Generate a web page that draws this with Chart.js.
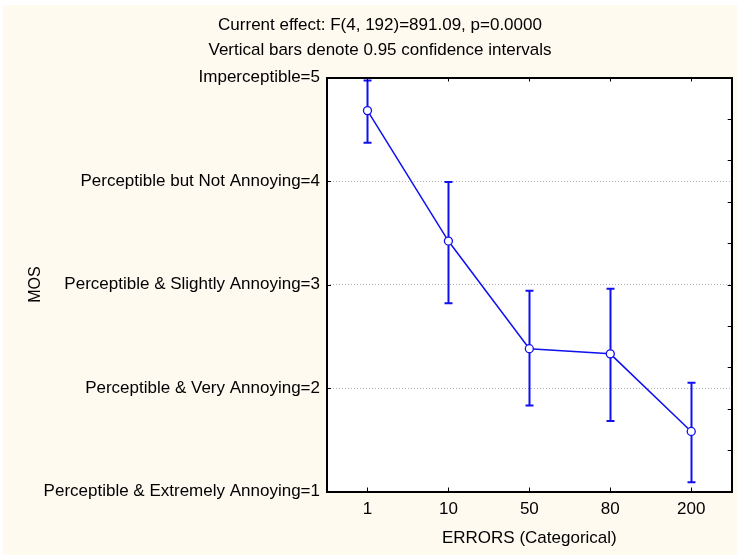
<!DOCTYPE html>
<html>
<head>
<meta charset="utf-8">
<script src="https://cdn.jsdelivr.net/npm/chart.js@4/dist/chart.umd.min.js"></script>
<style>
  html, body { margin: 0; padding: 0; background: #ffffff; }
  #wrap { width: 737px; height: 558px; }
</style>
</head>
<body>
<div id="wrap"><canvas id="chart" width="737" height="558"></canvas></div>
<script>
// DATA
const categories = ["1", "10", "50", "80", "200"];
const mosMean = [4.68, 3.42, 2.38, 2.33, 1.58];
const ciLower = [4.37, 2.82, 1.83, 1.68, 1.09];
const ciUpper = [4.97, 3.99, 2.94, 2.96, 2.05];
const yTickLabels = {
  1: "Perceptible & Extremely Annoying=1",
  2: "Perceptible & Very Annoying=2",
  3: "Perceptible & Slightly Annoying=3",
  4: "Perceptible but Not Annoying=4",
  5: "Imperceptible=5"
};
const titleLines = [
  "Current effect: F(4, 192)=891.09, p=0.0000",
  "Vertical bars denote 0.95 confidence intervals"
];

const BLUE = "#1010f0";
const FONT = "'Liberation Sans', Arial, sans-serif";

// BACKGROUND, TITLE, ERROR BARS, FRAME + TICKS
const framePlugin = {
  id: "frame",
  beforeDraw(chart) {
    const ctx = chart.ctx;
    const a = chart.chartArea;
    ctx.save();
    ctx.fillStyle = "#ffffff";
    ctx.fillRect(0, 0, chart.width, chart.height);
    ctx.fillStyle = "#fffaf0";
    ctx.fillRect(3, 5, chart.width - 3, chart.height - 8);
    ctx.fillStyle = "#ffffff";
    ctx.fillRect(a.left, a.top, a.right - a.left, a.bottom - a.top);

    // two title lines
    ctx.fillStyle = "#000000";
    ctx.font = "17px " + FONT;
    ctx.textAlign = "center";
    ctx.textBaseline = "middle";
    ctx.fillText(titleLines[0], 380, 25);
    ctx.fillText(titleLines[1], 380, 50);
    ctx.restore();
  },
  beforeDatasetsDraw(chart) {
    const ctx = chart.ctx;
    const x = chart.scales.x;
    const y = chart.scales.y;
    ctx.save();
    ctx.strokeStyle = BLUE;
    ctx.lineWidth = 2;
    categories.forEach((c, i) => {
      const px = Math.round(x.getPixelForValue(i)) + 0.5;
      const top = y.getPixelForValue(ciUpper[i]);
      const bot = y.getPixelForValue(ciLower[i]);
      ctx.beginPath();
      ctx.moveTo(px, top);
      ctx.lineTo(px, bot);
      ctx.moveTo(px - 4, top);
      ctx.lineTo(px + 4, top);
      ctx.moveTo(px - 4, bot);
      ctx.lineTo(px + 4, bot);
      ctx.stroke();
    });
    ctx.restore();
  },
  afterDraw(chart) {
    const ctx = chart.ctx;
    const a = chart.chartArea;
    const x = chart.scales.x;
    const y = chart.scales.y;
    ctx.save();
    ctx.strokeStyle = "#000000";
    ctx.lineWidth = 1;
    ctx.beginPath();
    // top / bottom ticks at categories
    categories.forEach((c, i) => {
      const px = Math.round(x.getPixelForValue(i)) + 0.5;
      ctx.moveTo(px, a.top);
      ctx.lineTo(px, a.top + 4);
      ctx.moveTo(px, a.bottom);
      ctx.lineTo(px, a.bottom - 4);
    });
    // left ticks at labelled values
    Object.keys(yTickLabels).forEach(v => {
      const py = Math.round(y.getPixelForValue(Number(v))) + 0.5;
      ctx.moveTo(a.left, py);
      ctx.lineTo(a.left + 4, py);
    });
    // right minor ticks
    for (let k = 0; k <= 10; k++) {
      const py = Math.round(y.getPixelForValue(1 + k * 0.4)) + 0.5;
      ctx.moveTo(a.right, py);
      ctx.lineTo(a.right - 4, py);
    }
    ctx.stroke();
    ctx.lineWidth = 2;
    ctx.strokeRect(Math.round(a.left), Math.round(a.top), Math.round(a.right - a.left), Math.round(a.bottom - a.top));
    ctx.restore();
  }
};

new Chart(document.getElementById("chart"), {
  type: "line",
  data: {
    labels: categories,
    datasets: [{
      data: mosMean,
      borderColor: BLUE,
      borderWidth: 1.5,
      pointRadius: 4,
      pointHoverRadius: 4,
      pointBackgroundColor: "#ffffff",
      pointBorderColor: BLUE,
      pointBorderWidth: 1.3,
      tension: 0
    }]
  },
  options: {
    responsive: false,
    animation: false,
    devicePixelRatio: 1,
    layout: { padding: { left: 0, right: 4, top: 77.5, bottom: 0 } },
    plugins: {
      legend: { display: false },
      tooltip: { enabled: false },
      title: { display: false }
    },
    scales: {
      x: {
        type: "category",
        offset: true,
        grid: { display: false, drawTicks: false },
        border: { display: false },
        ticks: { color: "#000000", padding: 8, font: { family: FONT, size: 17 } },
        title: {
          display: true,
          text: "ERRORS (Categorical)",
          color: "#000000",
          font: { family: FONT, size: 17 },
          padding: { top: 0, bottom: 9 }
        },
        afterFit(scale) { scale.height = 66.5; }
      },
      y: {
        min: 1,
        max: 5,
        grid: {
          drawTicks: false,
          color: ctx => (ctx.tick && (ctx.tick.value === 1 || ctx.tick.value === 5)) ? "rgba(0,0,0,0)" : "#b4b4b4",
          lineWidth: 1
        },
        border: { display: false, dash: [1, 2] },
        ticks: {
          stepSize: 1,
          color: "#000000",
          padding: 7,
          font: { family: FONT, size: 17 },
          callback: v => yTickLabels[v] || ""
        },
        title: {
          display: true,
          text: "MOS",
          color: "#000000",
          font: { family: FONT, size: 16 },
          padding: { top: 26, bottom: 0 }
        },
        afterFit(scale) { scale.width = 327; }
      }
    }
  },
  plugins: [framePlugin]
});
</script>
</body>
</html>
